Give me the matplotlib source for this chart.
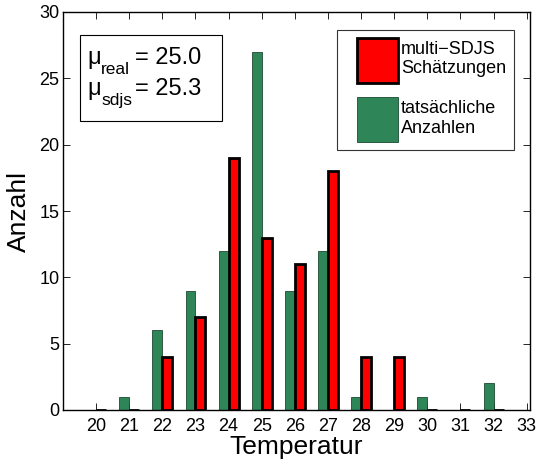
import matplotlib
matplotlib.use("Agg")
import matplotlib.pyplot as plt
import numpy as np
from matplotlib.patches import Patch, Rectangle
from matplotlib.legend_handler import HandlerPatch

plt.rcParams['font.family'] = ['Liberation Sans', 'DejaVu Sans']

temperatures = [20, 21, 22, 23, 24, 25, 26, 27, 28, 29, 30, 31, 32]
actual_counts = [0, 1, 6, 9, 12, 27, 9, 12, 1, 0, 1, 0, 2]
sdjs_estimates = [0, 0, 4, 7, 19, 13, 11, 18, 4, 4, 0, 0, 0]
mu_real = 25.0
mu_sdjs = 25.3

green = '#2e8558'
red = '#ff0000'

W, H = 541, 462
fig = plt.figure(figsize=(W / 100, H / 100), dpi=100)
ax_l, ax_r, ax_t, ax_b = 63, 530, 12, 410
ax = fig.add_axes([ax_l / W, (H - ax_b) / H, (ax_r - ax_l) / W, (ax_b - ax_t) / H])

x = np.array(temperatures, dtype=float)
w = 0.3
ax.bar(x - w / 2, actual_counts, width=w, color=green, edgecolor='#1a4a30',
       linewidth=0.6, zorder=2)
ax.bar(x + w / 2, sdjs_estimates, width=w, color=red, edgecolor='black',
       linewidth=2.0, zorder=3)

ax.set_xlim(19.0, 33.1)
ax.set_ylim(0, 30)
ax.set_xticks(list(range(20, 34)))
ax.set_yticks([0, 5, 10, 15, 20, 25, 30])
ax.tick_params(direction='in', length=5, labelsize=13, top=True, right=True,
               width=0.6)
ax.tick_params(axis='x', pad=6)
ax.tick_params(axis='y', pad=2.5)
for s in ax.spines.values():
    s.set_linewidth(1.0)

ax.set_xlabel('Temperatur', fontsize=19, labelpad=0)
ax.set_ylabel('Anzahl', fontsize=19, labelpad=6)


def px_to_axes(px, py):
    return (px - ax_l) / (ax_r - ax_l), (ax_b - py) / (ax_b - ax_t)


# statistics box with the two means
bx0, by0 = px_to_axes(80, 121)
bx1, by1 = px_to_axes(222, 35)
ax.add_patch(Rectangle((bx0, by0), bx1 - bx0, by1 - by0, transform=ax.transAxes,
                       facecolor='white', edgecolor='black', linewidth=0.8,
                       zorder=5))


def mean_line(sub, value, baseline):
    kw = dict(transform=ax.transAxes, va='baseline', ha='left', zorder=6)
    ax.text(*px_to_axes(87, baseline), '\u03bc', fontsize=17, **kw)
    ax.text(*px_to_axes(101, baseline + 10), sub, fontsize=12.5, **kw)
    ax.text(*px_to_axes(135, baseline), '= %.1f' % value, fontsize=17, **kw)


mean_line('real', mu_real, 64)
mean_line('sdjs', mu_sdjs, 95)


def shifted_patch(legend, orig_handle, xdescent, ydescent, width, height, fontsize):
    off = 8.6
    return Rectangle((-xdescent + off, -ydescent), width - off, height)


handles = [Patch(facecolor=red, edgecolor='black', linewidth=2.0),
           Patch(facecolor=green, edgecolor='#1a4a30', linewidth=0.6)]
labels = ['multi\u2212SDJS\nSch\u00e4tzungen', 'tats\u00e4chliche\nAnzahlen']
leg = ax.legend(handles, labels, loc='upper right', bbox_to_anchor=(0.966, 0.955),
                fontsize=13, frameon=True, fancybox=False, edgecolor='black',
                handlelength=2.9, handleheight=3.45, handletextpad=0.17,
                labelspacing=0.8, borderpad=0.45, borderaxespad=0,
                handler_map={Patch: HandlerPatch(patch_func=shifted_patch)})
leg.get_frame().set_linewidth(0.8)
leg.set_zorder(6)

fig.savefig('out.png', dpi=100)
